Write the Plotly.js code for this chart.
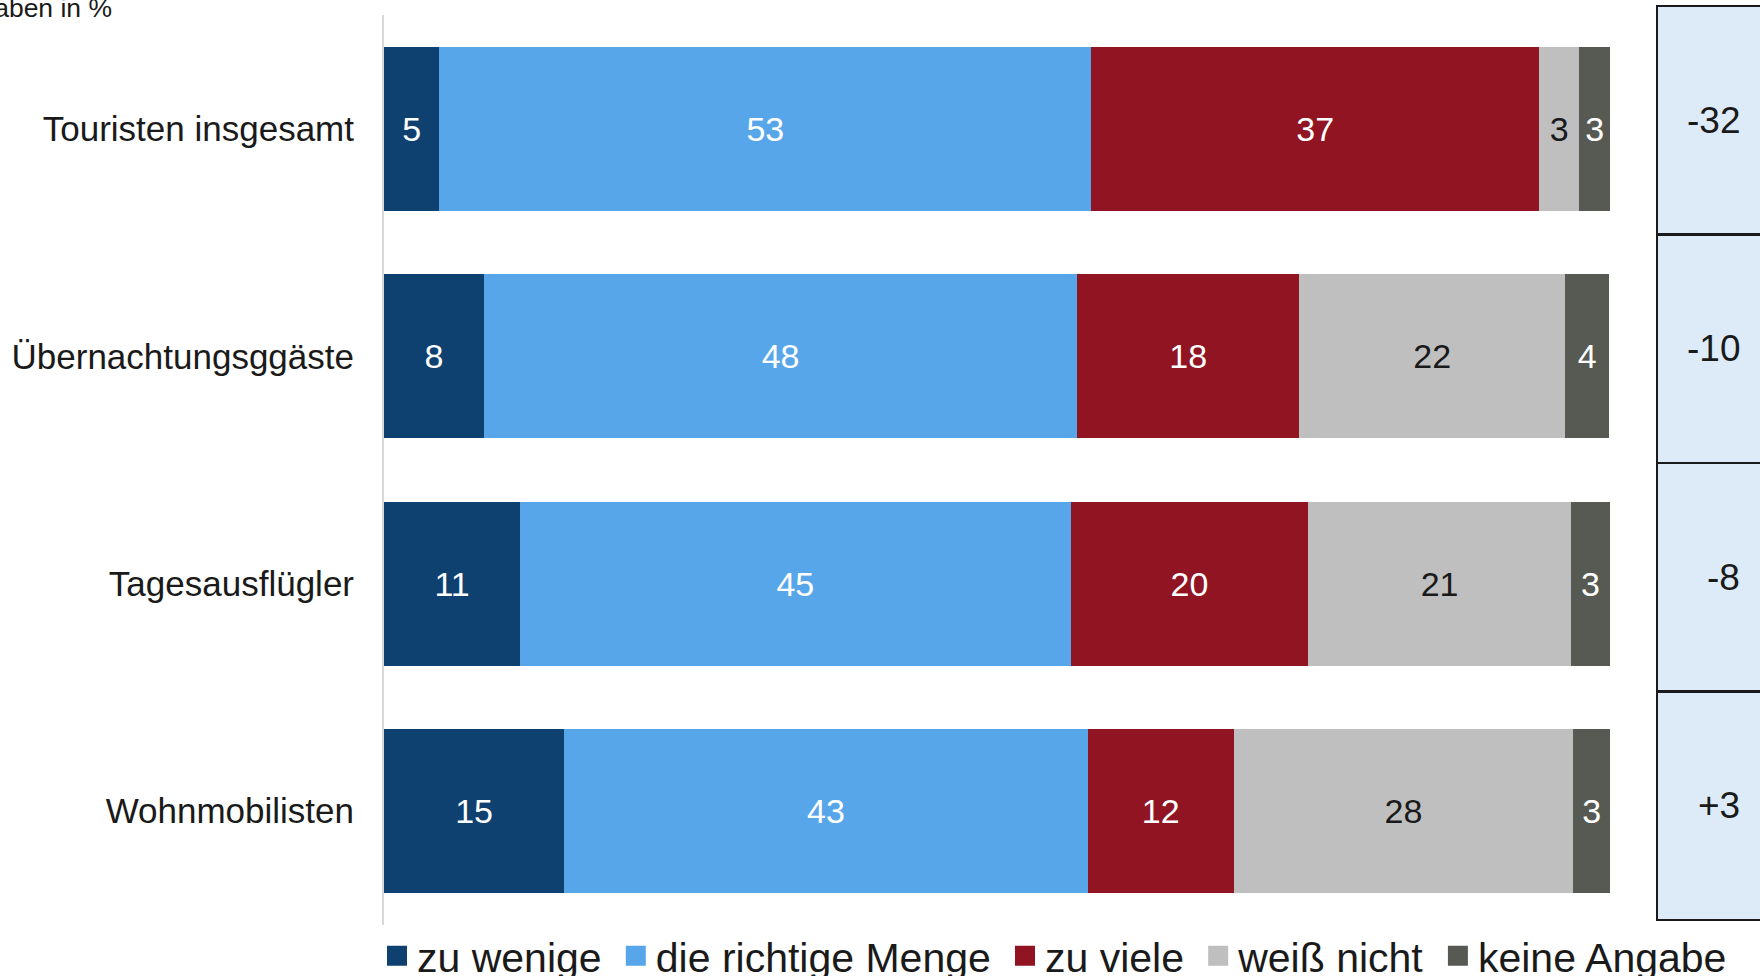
<!DOCTYPE html>
<html>
<head>
<meta charset="utf-8">
<script src="https://cdn.plot.ly/plotly-3.0.1.min.js"></script>
<style>
  html, body { margin: 0; padding: 0; background: #ffffff; }
  #chart { width: 1760px; height: 976px; }
</style>
</head>
<body>
<div id="chart"></div>
<script>
// ---- data ----
var categories = ["Touristen insgesamt", "Übernachtungsggäste", "Tagesausflügler", "Wohnmobilisten"];
var seriesNames = ["zu wenige", "die richtige Menge", "zu viele", "weiß nicht", "keine Angabe"];

// bar lengths (percent)
var zuWenige       = [4.5, 8.15, 11.1, 14.7];
var richtigeMenge  = [53.2, 48.4, 44.9, 42.7];
var zuViele        = [36.5, 18.1, 19.4, 11.9];
var weissNicht     = [3.3, 21.7, 21.4, 27.7];
var keineAngabe    = [2.5, 3.6, 3.2, 3.0];

// printed labels
var zuWenigeLabels      = [5, 8, 11, 15];
var richtigeMengeLabels = [53, 48, 45, 43];
var zuVieleLabels       = [37, 18, 20, 12];
var weissNichtLabels    = [3, 22, 21, 28];
var keineAngabeLabels   = [3, 4, 3, 3];

// balance column (zu wenige minus zu viele)
var saldo = [-32, -10, -8, 3];

var colors = ["#0e4170", "#58a6ea", "#911423", "#bfbfbf", "#575953"];
var textColors = ["#ffffff", "#ffffff", "#ffffff", "#1a1a1a", "#ffffff"];

var FONT = "Liberation Sans, Arial, Helvetica, sans-serif";

var values = [zuWenige, richtigeMenge, zuViele, weissNicht, keineAngabe];
var labels = [zuWenigeLabels, richtigeMengeLabels, zuVieleLabels, weissNichtLabels, keineAngabeLabels];

var traces = [];
seriesNames.forEach(function (name, i) {
  traces.push({
    type: "bar",
    orientation: "h",
    name: name,
    y: categories,
    x: values[i],
    text: labels[i].map(String),
    textposition: "inside",
    insidetextanchor: "middle",
    textangle: 0,
    constraintext: "none",
    insidetextfont: { family: FONT, size: 34, color: textColors[i] },
    marker: { color: colors[i], line: { width: 0 } },
    showlegend: false,
    legendgroup: name,
    hoverinfo: "skip",
    xaxis: "x",
    yaxis: "y"
  });
});

// legend entries (square symbols); a small trailing spacer widens the gap between entries
var spacer = "<span style='font-size:33px'>\u00a0</span>";
seriesNames.forEach(function (name, i) {
  traces.push({
    type: "scatter",
    mode: "markers",
    name: name + (i < seriesNames.length - 1 ? spacer : ""),
    x: [null],
    y: [null],
    marker: { symbol: "square", size: 16, color: colors[i], line: { width: 4, color: colors[i] } },
    showlegend: true,
    legendgroup: name,
    hoverinfo: "skip",
    xaxis: "x",
    yaxis: "y"
  });
});

// balance table boxes
traces.push({
  type: "bar",
  orientation: "h",
  y: categories,
  x: categories.map(function () { return 1; }),
  width: 1,
  marker: { color: "#ddebf8", line: { color: "#1a1a1a", width: 2.5 } },
  showlegend: false,
  hoverinfo: "skip",
  xaxis: "x2",
  yaxis: "y2"
});

var annotations = saldo.map(function (v, i) {
  return {
    xref: "x2", yref: "y2",
    x: 0.76, y: categories[i],
    xanchor: "right", yanchor: "middle",
    text: (v > 0 ? "+" : "") + v,
    showarrow: false,
    font: { family: FONT, size: 37, color: "#1a1a1a" }
  };
});

annotations.push({
  xref: "paper", yref: "paper",
  x: -0.319, y: 0.9915,
  xanchor: "left", yanchor: "middle",
  text: "Angaben in %",
  showarrow: false,
  font: { family: FONT, size: 26.5, color: "#1a1a1a" }
});

var layout = {
  width: 1760,
  height: 976,
  margin: { l: 384, r: 0, t: 0, b: 0, autoexpand: false },
  paper_bgcolor: "#ffffff",
  plot_bgcolor: "#ffffff",
  font: { family: FONT, color: "#1a1a1a" },
  barmode: "stack",
  bargap: 0.279,
  xaxis: {
    domain: [0, 0.89099],
    range: [0, 100],
    showgrid: false, zeroline: false, showticklabels: false, showline: false, ticks: ""
  },
  yaxis: {
    domain: [0.05226, 0.98463],
    type: "category",
    autorange: "reversed",
    showgrid: false, zeroline: false,
    showline: true, linecolor: "#d9d9d9", linewidth: 2,
    ticks: "",
    ticklabelstandoff: 21,
    tickfont: { family: FONT, size: 35, color: "#1a1a1a" }
  },
  xaxis2: {
    domain: [0.9237, 1],
    range: [-0.02, 0.92],
    anchor: "y2",
    showgrid: false, zeroline: false, showticklabels: false, showline: false, ticks: ""
  },
  yaxis2: {
    domain: [0.05502, 0.99621],
    type: "category",
    range: [3.51, -0.51],
    anchor: "x2",
    showgrid: false, zeroline: false, showticklabels: false, showline: false, ticks: ""
  },
  showlegend: true,
  legend: {
    orientation: "h",
    xref: "container", yref: "container",
    x: 0.2142, xanchor: "left",
    y: 0.0205, yanchor: "middle",
    traceorder: "normal",
    font: { family: FONT, size: 41, color: "#1a1a1a" },
    bgcolor: "rgba(0,0,0,0)",
    borderwidth: 0
  },
  annotations: annotations
};

Plotly.newPlot("chart", traces, layout, { displayModeBar: false, staticPlot: true });
</script>
</body>
</html>
